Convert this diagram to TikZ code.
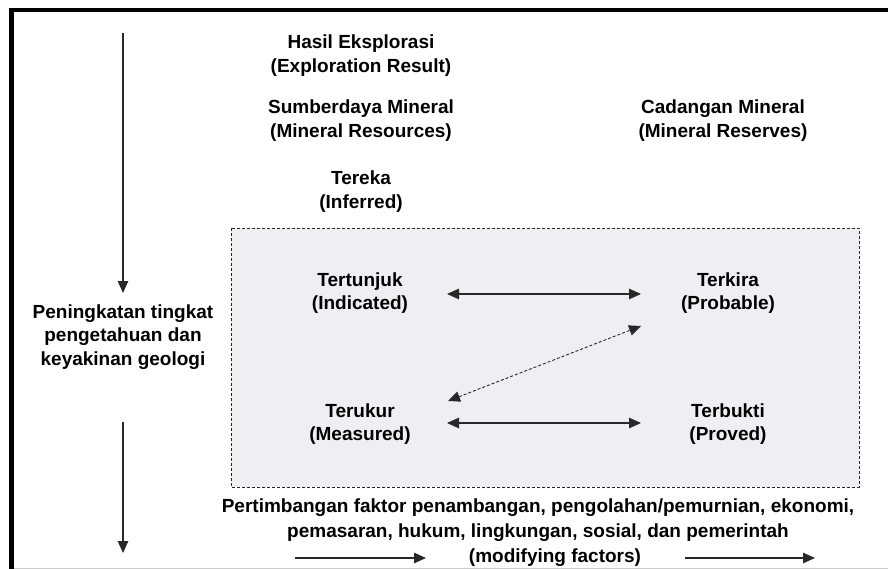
\documentclass[tikz,border=0pt]{standalone}
\usepackage{fontspec}
\setmainfont{Liberation Sans}
\usetikzlibrary{arrows.meta}
\definecolor{boxfill}{RGB}{239,238,243}
\definecolor{linegrey}{RGB}{40,40,40}
\begin{document}
\begin{tikzpicture}[x=1bp,y=-1bp,
  lbl/.style={font=\bfseries\fontsize{19bp}{23.5bp}\selectfont, align=center, inner sep=0pt},
  arr/.style={draw=linegrey, line width=1.1bp, -{Triangle[length=12bp,width=10.5bp]}},
  darr/.style={draw=linegrey, line width=1.1bp, {Triangle[length=12bp,width=10.5bp]}-{Triangle[length=12bp,width=10.5bp]}},
  dashdarr/.style={darr, line width=0.9bp, dash pattern=on 3bp off 2bp},
  framebox/.style={fill=boxfill, draw=linegrey, line width=0.8bp, dash pattern=on 3bp off 2bp}]
\useasboundingbox (0,0) rectangle (888,569);
\fill[white] (0,0) rectangle (888,569);
% frame
\fill[black] (9,8) rectangle (888,12);
\fill[black] (9,8) rectangle (14,569);
\draw[line width=1bp, black!20] (14,568) -- (888,568);
% dashed box
\draw[framebox] (231,228) rectangle (859,487);
% labels
\node[lbl] (hasil) at (361,55.5) {Hasil Eksplorasi\\(Exploration Result)};
\node[lbl] (sumber) at (361,120.5) {Sumberdaya Mineral\\(Mineral Resources)};
\node[lbl] (cadang) at (723,120.5) {Cadangan Mineral\\(Mineral Reserves)};
\node[lbl] (tereka) at (361,191.5) {Tereka\\(Inferred)};
\node[lbl] (tertunjuk) at (360,293) {Tertunjuk\\(Indicated)};
\node[lbl] (terkira) at (728,293) {Terkira\\(Probable)};
\node[lbl] (terukur) at (360,424) {Terukur\\(Measured)};
\node[lbl] (terbukti) at (728,424) {Terbukti\\(Proved)};
\node[lbl] (ningkat) at (123,337) {Peningkatan tingkat\\pengetahuan dan\\keyakinan geologi};
\node[lbl, font=\bfseries\fontsize{19bp}{25bp}\selectfont] (modif) at (538,533) {Pertimbangan faktor penambangan, pengolahan/pemurnian, ekonomi,\\pemasaran, hukum, lingkungan, sosial, dan pemerintah\\\hspace*{34bp}(modifying factors)};
% connector end points
\coordinate (d1s) at (123,33);
\coordinate (d1e) at (123,293);
\coordinate (d2s) at (123,422);
\coordinate (d2e) at (123,553);
\coordinate (h1a) at (447,294);
\coordinate (h1b) at (641,294);
\coordinate (h2a) at (447,423);
\coordinate (h2b) at (641,423);
\coordinate (dga) at (448,401);
\coordinate (dgb) at (641,326);
\coordinate (b1s) at (295,558);
\coordinate (b1e) at (426,558);
\coordinate (b2s) at (685,558);
\coordinate (b2e) at (815,558);
% connectors
\draw[arr] (d1s) -- (d1e);
\draw[arr] (d2s) -- (d2e);
\draw[darr] (h1a) -- (h1b);
\draw[darr] (h2a) -- (h2b);
\draw[dashdarr] (dga) -- (dgb);
\draw[arr] (b1s) -- (b1e);
\draw[arr] (b2s) -- (b2e);
\end{tikzpicture}
\end{document}
